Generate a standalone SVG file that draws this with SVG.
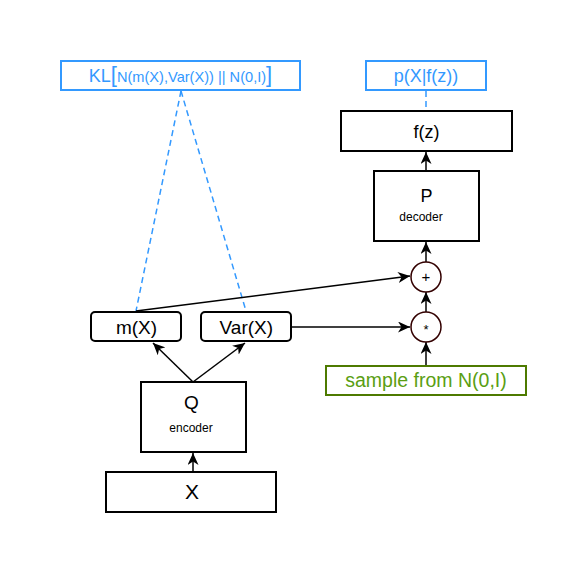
<svg xmlns="http://www.w3.org/2000/svg" width="587" height="574" viewBox="0 0 587 574">
  <defs>
    <style>
      text { font-family: "Liberation Sans", Arial, sans-serif; fill: #000; text-anchor: middle; }
      .box { fill: #fff; stroke: #000; stroke-width: 2; }
      .blue { fill: #fff; stroke: #3399ff; stroke-width: 2; }
      .green { fill: #fff; stroke: #4d7a00; stroke-width: 2; }
      .circ { fill: #fff; stroke: #330000; stroke-width: 1.5; }
      .edge { fill: none; stroke: #000; stroke-width: 1.5; }
      .dash { fill: none; stroke: #3399ff; stroke-width: 1.5; stroke-dasharray: 6 4; }
      .btext { fill: #3399ff; }
      .gtext { fill: #5a9e12; }
    </style>
    <marker id="arrow" markerUnits="userSpaceOnUse" markerWidth="13" markerHeight="11" viewBox="0 0 13 11" refX="12" refY="5.5" orient="auto">
      <path d="M0,0 L12,5.5 L0,11 L3.5,5.5 Z" fill="#000"/>
    </marker>
  </defs>

  <rect width="587" height="574" fill="#fff"/>

  <g id="connectors">
    <line class="dash" x1="181" y1="91" x2="136" y2="311"/>
    <line class="dash" x1="181" y1="91" x2="246" y2="311"/>
    <line class="dash" x1="426" y1="91" x2="426" y2="110"/>
    <line class="edge" x1="193" y1="471" x2="193" y2="453" marker-end="url(#arrow)"/>
    <line class="edge" x1="193" y1="382" x2="153" y2="343" marker-end="url(#arrow)"/>
    <line class="edge" x1="193" y1="382" x2="245" y2="343" marker-end="url(#arrow)"/>
    <line class="edge" x1="136" y1="311" x2="410" y2="276" marker-end="url(#arrow)"/>
    <line class="edge" x1="291" y1="327" x2="410" y2="327" marker-end="url(#arrow)"/>
    <line class="edge" x1="426" y1="366" x2="426" y2="342" marker-end="url(#arrow)"/>
    <line class="edge" x1="426" y1="312" x2="426" y2="292" marker-end="url(#arrow)"/>
    <line class="edge" x1="426" y1="262" x2="426" y2="242" marker-end="url(#arrow)"/>
    <line class="edge" x1="426" y1="171" x2="426" y2="152" marker-end="url(#arrow)"/>
  </g>

  <g id="kl">
    <rect class="blue" x="61" y="61" width="239" height="29"/>
    <text x="180.5" y="82" class="btext"><tspan font-size="18">KL</tspan><tspan font-size="22">[</tspan><tspan font-size="14.6">N(m(X),Var(X)) || N(0,I)</tspan><tspan font-size="22">]</tspan></text>
  </g>

  <g id="pxfz">
    <rect class="blue" x="366" y="61" width="120" height="29"/>
    <text x="426" y="82" font-size="18" class="btext">p(X|f(z))</text>
  </g>

  <g id="fz">
    <rect class="box" x="341" y="111" width="171" height="40"/>
    <text x="426.5" y="137.5" font-size="18">f(z)</text>
  </g>

  <g id="P">
    <rect class="box" x="374" y="171" width="105" height="70"/>
    <text x="426.5" y="202" font-size="18">P</text>
    <text x="421" y="221" font-size="12">decoder</text>
  </g>

  <g id="plus">
    <circle class="circ" cx="426" cy="277" r="15"/>
    <text x="426" y="282" font-size="15">+</text>
  </g>

  <g id="times">
    <circle class="circ" cx="426" cy="327" r="15"/>
    <text x="426" y="333.5" font-size="13">*</text>
  </g>

  <g id="sample">
    <rect class="green" x="326" y="366" width="200" height="29"/>
    <text x="426" y="387" font-size="19.5" class="gtext">sample from N(0,I)</text>
  </g>

  <g id="mX">
    <rect class="box" x="91" y="312" width="90" height="29" rx="4" ry="4"/>
    <text x="136.5" y="334" font-size="19">m(X)</text>
  </g>

  <g id="varX">
    <rect class="box" x="201" y="312" width="90" height="29" rx="4" ry="4"/>
    <text x="246.3" y="334" font-size="19">Var(X)</text>
  </g>

  <g id="Q">
    <rect class="box" x="141" y="382" width="105" height="70"/>
    <text x="191.5" y="409" font-size="19">Q</text>
    <text x="191" y="432" font-size="12">encoder</text>
  </g>

  <g id="X">
    <rect class="box" x="106" y="472" width="170" height="40"/>
    <text x="192" y="498.5" font-size="21">X</text>
  </g>
</svg>
